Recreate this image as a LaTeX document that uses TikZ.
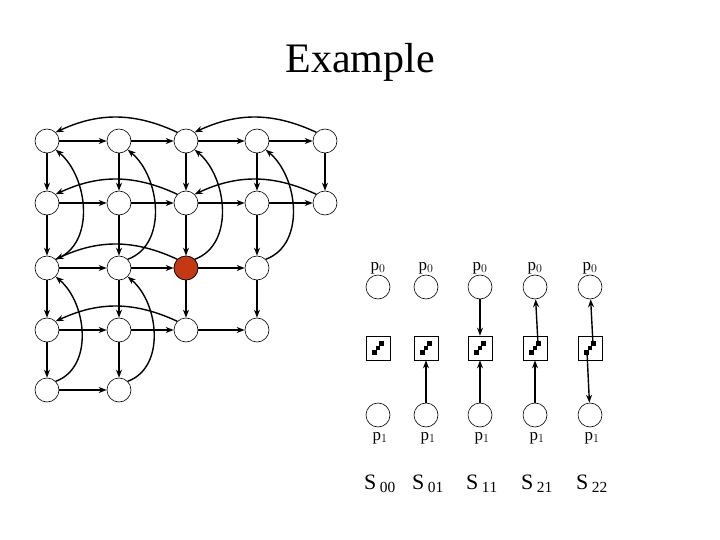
\documentclass[tikz,border=0pt]{standalone}
\usepackage{fontspec}
\setmainfont{Liberation Serif}
\usetikzlibrary{arrows.meta}
\definecolor{redn}{RGB}{196,56,20}
\begin{document}
\begin{tikzpicture}[x=1pt,y=-1pt,
  st/.style={circle,draw,minimum size=24pt,inner sep=0pt,line width=0.6pt},
  ar/.style={-{Stealth[length=8pt,width=6pt]},line width=1.4pt},
  bx/.style={draw,minimum size=24pt,inner sep=0pt,line width=0.6pt}]
\useasboundingbox (0,0) rectangle (720,540);
\node[font=\fontsize{42}{42}\selectfont] (title) at (360,62) {Example};
\def\xs{{47,119,186,257,325}}
\def\ys{{141,203,268,330,390}}
\foreach \r/\n in {0/4,1/4,2/3,3/3,4/1}{
  \foreach \c in {0,...,\n}{
    \pgfmathsetmacro\xx{\xs[\c]}\pgfmathsetmacro\yy{\ys[\r]}
    \node[st] (n\r\c) at (\xx,\yy) {};
  }}
\node[st,fill=redn] at (n22) {};
\foreach \r/\n in {0/3,1/3,2/2,3/2,4/0}{
  \foreach \c in {0,...,\n}{
    \pgfmathtruncatemacro\d{\c+1}
    \draw[ar] (n\r\c) -- (n\r\d);
  }}
\foreach \c/\n in {0/3,1/3,2/2,3/2,4/0}{
  \foreach \r in {0,...,\n}{
    \pgfmathtruncatemacro\d{\r+1}
    \draw[ar] (n\r\c) -- (n\d\c);
  }}
\foreach \r/\a/\b in {0/2/0,0/4/2,1/2/0,1/4/2,2/2/0,3/2/0}{
  \draw[ar] (n\r\a.north west) to[bend right=25] (n\r\b.north east);
}
\foreach \c/\a/\b in {0/2/0,0/4/2,1/2/0,1/4/2,2/2/0,3/2/0}{
  \draw[ar] (n\a\c.north east) to[out=20,in=-40,looseness=1] (n\b\c.south east);
}
\foreach \i/\x/\s in {0/378/00,1/426/01,2/480/11,3/535/21,4/590/22}{
  \node[st] (a\i) at (\x,287) {};
  \node[st] (b\i) at (\x,415) {};
  \node[bx] (q\i) at (\x,348) {};
  \fill (\x-6,350) rectangle (\x-1,355);
  \fill (\x-2,346) rectangle (\x+2,350);
  \fill (\x+1,341) rectangle (\x+6,346);
  \coordinate (ql\i) at (\x-3,352);
  \coordinate (qu\i) at (\x+3,344);
  \node[font=\fontsize{17}{17}\selectfont] (p\i) at (\x,268) {p$_0$};
  \node[font=\fontsize{17}{17}\selectfont] (r\i) at (\x+2,438) {p$_1$};
  \node[font=\fontsize{22}{22}\selectfont] (s\i) at (\x+2,484) {S$\,_{\mathrm{\s}}$};
}
\draw[ar] (b1) -- (q1);
\draw[ar] (a2) -- (q2);
\draw[ar] (b2) -- (q2);
\draw[ar] (b3) -- (q3);
\draw[ar] (qu3) -- (a3);
\draw[ar] (qu4) -- (a4);
\draw[ar] (ql4) -- (b4);
\end{tikzpicture}
\end{document}
